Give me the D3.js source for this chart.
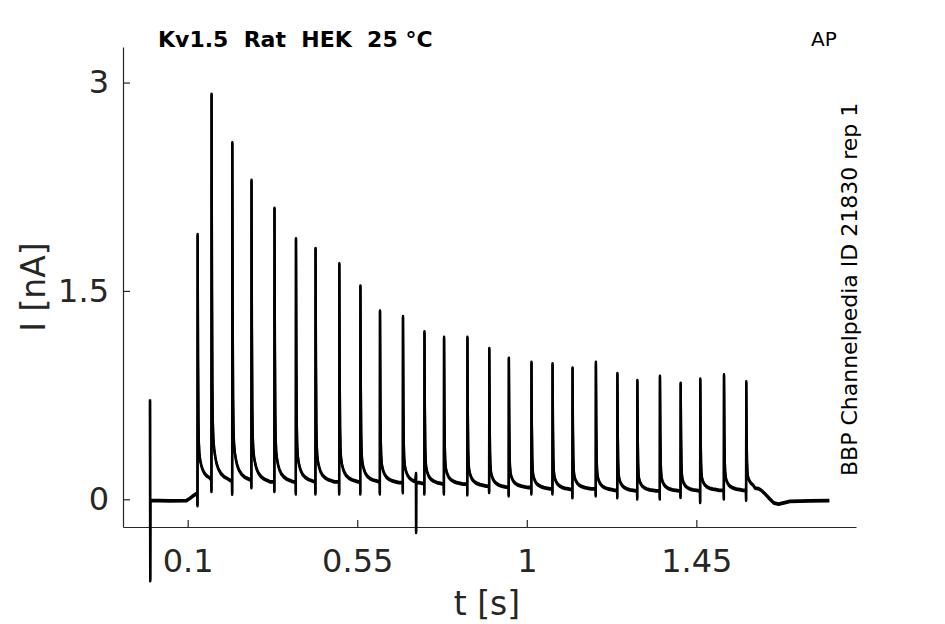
<!DOCTYPE html>
<html>
<head>
<meta charset="utf-8">
<script src="https://cdn.jsdelivr.net/npm/d3@7"></script>
<style>
  body { margin: 0; background: #fff; }
  svg { display: block; font-family: 'DejaVu Sans', sans-serif; }
  .axis path, .axis line { stroke: #262626; stroke-width: 1.2px; }
  .axis text { fill: #262626; font-family: 'DejaVu Sans', sans-serif; font-size: 32px; }
  .axis-label { fill: #262626; font-size: 33px; }
  .trace { fill: none; stroke: #000; stroke-width: 2.4px; stroke-linejoin: round; }
</style>
</head>
<body>
<div id="chart"></div>
<script>
// pulses of the AP train (t in s, I in nA)
const spikeTime = [0.126, 0.163, 0.218, 0.269, 0.330, 0.387, 0.439, 0.502, 0.558, 0.610,
                   0.671, 0.728, 0.780, 0.842, 0.900, 0.952, 1.012, 1.068, 1.121, 1.183,
                   1.240, 1.293, 1.353, 1.408, 1.460, 1.523, 1.582];
const spikePeak = [1.91, 2.92, 2.57, 2.30, 2.10, 1.88, 1.81, 1.70, 1.54, 1.36,
                   1.32, 1.21, 1.17, 1.17, 1.09, 1.02, 0.99, 0.98, 0.95, 0.99,
                   0.91, 0.86, 0.89, 0.84, 0.87, 0.90, 0.85];
// level of the trace just before each pulse
const preSpikeLevel = [0.05, 0.14, 0.14, 0.14, 0.13, 0.13, 0.13, 0.13, 0.13, 0.13,
                       0.125, 0.12, 0.115, 0.115, 0.10, 0.09, 0.09, 0.08, 0.075, 0.08,
                       0.07, 0.065, 0.065, 0.065, 0.065, 0.07, 0.07];
// bottom of the short dip at the start of each pulse
const spikeFoot = [-0.04, 0.062, 0.043, 0.09, 0.062, 0.045, 0.045, 0.045, 0.045, 0.045,
                   0.053, 0.045, 0.045, 0.038, 0.055, 0.031, 0.045, 0.045, 0.017, 0.031,
                   0.017, 0.009, 0.009, 0.019, -0.017, 0.009, 0.0];

// shape of the fall after a peak: seconds after the peak, share of the height left
const decayDt   = [0, 0.001, 0.002, 0.003, 0.0045, 0.007, 0.010, 0.013, 0.018, 0.025, 0.033, 0.042, 0.050];
const decayFrac = [1, 0.5, 0.25, 0.16, 0.11, 0.08, 0.06, 0.045, 0.03, 0.018, 0.01, 0.005, 0];

// trace before the train, after it, and the transient in the middle  [t, I]
const leadTrace = [[0, 0.72], [0.0005, -0.58], [0.001, -0.003], [0.05, -0.006], [0.097, -0.004],
                   [0.104, 0.008], [0.112, 0.025], [0.125, 0.05]];
const tailTrace = [[1.606, 0.085], [1.614, 0.082], [1.622, 0.07], [1.632, 0.045], [1.644, 0.01],
                   [1.655, -0.02], [1.668, -0.03], [1.682, -0.02], [1.698, -0.01], [1.75, -0.006],
                   [1.803, -0.005]];
const glitchTrace = [[0.706, 0.19], [0.7062, -0.233], [0.7065, 0.12]];

const xTicks = [0.1, 0.55, 1, 1.45];
const yTicks = [0, 1.5, 3];

const margin = {top: 47, right: 89, bottom: 97, left: 123};
const width = 945 - margin.left - margin.right;
const height = 624 - margin.top - margin.bottom;

const svg = d3.select('#chart').append('svg')
    .attr('width', 945)
    .attr('height', 624);

const g = svg.append('g')
    .attr('transform', `translate(${margin.left},${margin.top})`);

const x = d3.scaleLinear().domain([-0.0717, 1.8737]).range([0, width]);
const y = d3.scaleLinear().domain([-0.1994, 3.256]).range([height, 0]);

// assemble the trace pulse by pulse
let trace = leadTrace.slice();
spikeTime.forEach((t0, i) => {
  const last = i === spikeTime.length - 1;
  const next = last ? tailTrace[0][0] : spikeTime[i + 1];
  const level = last ? tailTrace[0][1] : preSpikeLevel[i + 1];
  const tPeak = t0 + 0.0004;
  trace.push([t0, spikeFoot[i]]);
  trace.push([tPeak, spikePeak[i]]);
  decayDt.forEach((dt, k) => {
    if (k === 0 || tPeak + dt >= next - 0.0005) return;
    trace.push([tPeak + dt, level + (spikePeak[i] - level) * decayFrac[k]]);
  });
  if (!last) trace.push([next - 0.0004, level]);
});
trace = trace.concat(glitchTrace, tailTrace).sort((a, b) => a[0] - b[0]);

const line = d3.line()
    .x(d => x(d[0]))
    .y(d => y(d[1]));

// axes
g.append('g')
    .attr('class', 'axis')
    .attr('transform', `translate(0,${height})`)
    .call(d3.axisBottom(x).tickValues(xTicks).tickFormat(d => String(d))
      .tickSize(-7).tickSizeOuter(0).tickPadding(22));

g.append('g')
    .attr('class', 'axis')
    .call(d3.axisLeft(y).tickValues(yTicks).tickFormat(d => String(d))
      .tickSize(-7).tickSizeOuter(0).tickPadding(14));

// recording noise makes the trace look a little thicker; a second pass
// nudged down by a pixel gives the same band
[0, 1.4].forEach(dy => {
  g.append('path')
      .datum(trace)
      .attr('class', 'trace')
      .attr('transform', `translate(0,${dy})`)
      .attr('d', line);
});

// labels
svg.append('text')
    .attr('class', 'axis-label')
    .attr('x', 487)
    .attr('y', 615)
    .attr('text-anchor', 'middle')
    .text('t [s]');

svg.append('text')
    .attr('class', 'axis-label')
    .attr('transform', 'translate(45,287) rotate(-90)')
    .attr('text-anchor', 'middle')
    .text('I [nA]');

svg.append('text')
    .attr('x', 158)
    .attr('y', 47)
    .style('font-size', '22px')
    .style('font-weight', 'bold')
    .style('white-space', 'pre')
    .text('Kv1.5  Rat  HEK  25 °C');

svg.append('text')
    .attr('x', 811)
    .attr('y', 46)
    .style('font-size', '20px')
    .text('AP');

svg.append('text')
    .attr('transform', 'translate(857,476) rotate(-90)')
    .style('font-size', '22px')
    .text('BBP Channelpedia ID 21830 rep 1');
</script>
</body>
</html>
